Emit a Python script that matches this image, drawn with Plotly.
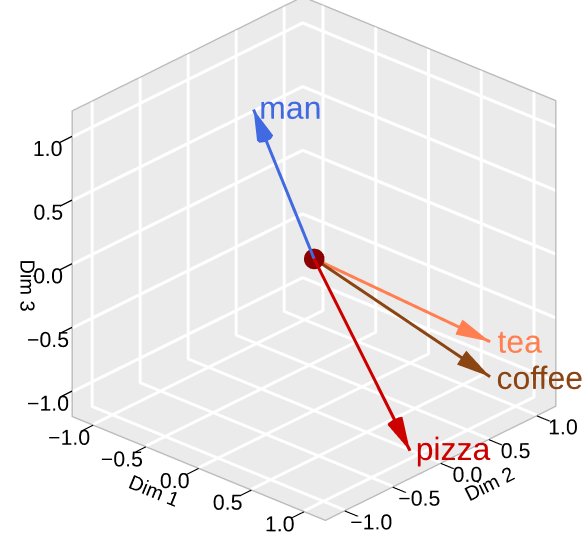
import plotly.graph_objects as go
import numpy as np

words = ["man", "tea", "coffee", "pizza"]
dim1 = [-0.30, 1.05, 1.15, 1.11]
dim2 = [-0.30, 0.68, 0.57, -0.22]
dim3 = [1.18, -0.55, -0.75, -1.05]
colors = ["#4169E1", "#FF7F50", "#8B4513", "#CD0000"]
tick_vals = [-1.0, -0.5, 0.0, 0.5, 1.0]
tick_text = ["\u22121.0", "\u22120.5", "0.0", "0.5", "1.0"]
lo, hi = -1.2, 1.2

fig = go.Figure()

# white grid lines on the three back panels
gx, gy, gz = [], [], []
e = 0.002
for t in tick_vals:
    gx += [lo + e, lo + e, None, lo + e, lo + e, None]
    gy += [t, t, None, lo, hi, None]
    gz += [lo, hi, None, t, t, None]
    gx += [t, t, None, lo, hi, None]
    gy += [hi - e, hi - e, None, hi - e, hi - e, None]
    gz += [lo, hi, None, t, t, None]
    gx += [t, t, None, lo, hi, None]
    gy += [lo, hi, None, t, t, None]
    gz += [lo + e, lo + e, None, lo + e, lo + e, None]
fig.add_trace(go.Scatter3d(x=gx, y=gy, z=gz, mode="lines",
                           line=dict(color="white", width=8),
                           showlegend=False, hoverinfo="skip"))

for w, x, y, z, c in zip(words, dim1, dim2, dim3, colors):
    fig.add_trace(go.Scatter3d(x=[0, x], y=[0, y], z=[0, z], mode="lines",
                               line=dict(color=c, width=6), showlegend=False, hoverinfo="skip"))
    n = np.sqrt(x * x + y * y + z * z)
    fig.add_trace(go.Cone(x=[x], y=[y], z=[z], u=[x / n], v=[y / n], w=[z / n],
                          anchor="tip", sizemode="absolute", sizeref=0.24,
                          colorscale=[[0, c], [1, c]], showscale=False, hoverinfo="skip",
                          lighting=dict(ambient=1, diffuse=0, specular=0, fresnel=0, roughness=1)))
    fig.add_trace(go.Scatter3d(x=[x - 0.12], y=[y - 0.12], z=[z], mode="text", text=[w],
                               textposition="middle right",
                               textfont=dict(color=c, size=32, family="Liberation Sans"),
                               showlegend=False, hoverinfo="skip"))

fig.add_trace(go.Scatter3d(x=[0], y=[0], z=[0], mode="markers",
                           marker=dict(color="#8B0000", size=12), showlegend=False))

ax = dict(range=[lo, hi], tickvals=tick_vals, ticktext=tick_text,
          backgroundcolor="#EBEBEB", showbackground=True, showgrid=False,
          zeroline=False, showline=True, linecolor="#BBBBBB", linewidth=3, mirror=True,
          ticks="outside", ticklen=18, tickwidth=3, tickcolor="black", tickangle=0,
          tickfont=dict(size=16, color="black", family="Liberation Sans"),
          showspikes=False)

fig.update_layout(
    width=582, height=550, margin=dict(l=0, r=0, t=0, b=0),
    paper_bgcolor="white",
    font=dict(family="Liberation Sans", color="black"),
    scene=dict(
        domain=dict(x=[0.0, 1.0], y=[0.0, 1.0]),
        xaxis=dict(ax, title=dict(text="Dim 1", font=dict(size=20))),
        yaxis=dict(ax, title=dict(text="Dim 2", font=dict(size=20))),
        zaxis=dict(ax, title=dict(text="Dim 3", font=dict(size=20))),
        aspectmode="manual",
        aspectratio=dict(x=1.245, y=1.245, z=1.245),
        camera=dict(eye=dict(x=1.457, y=-1.725, z=1.072),
                    center=dict(x=-0.064, y=-0.054, z=-0.0685),
                    projection=dict(type="orthographic")),
    ),
    showlegend=False,
)
fig.write_html("out.html")
